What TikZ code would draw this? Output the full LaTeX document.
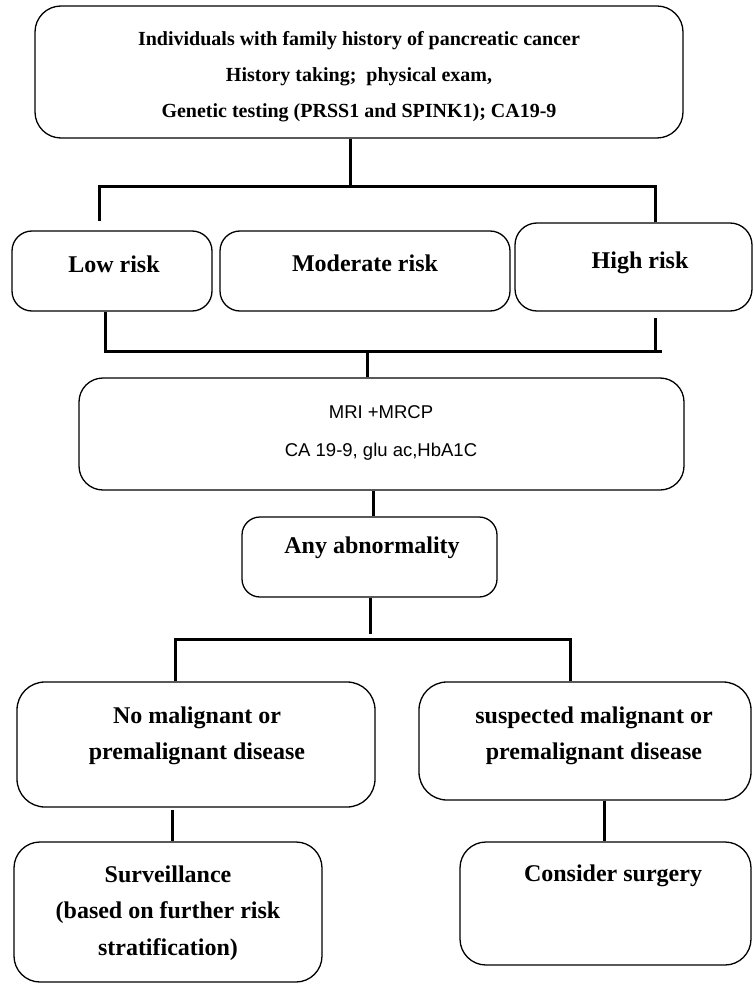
\documentclass[tikz,border=0pt]{standalone}
\usepackage{fontspec}
\setmainfont{Liberation Serif}
\setsansfont{Liberation Sans}
\begin{document}
\begin{tikzpicture}[x=1pt,y=-1pt,
  box/.style={draw=black,line width=1.3pt,rectangle,rounded corners=#1,inner sep=0pt},
  box/.default=22pt,
  lbl/.style={align=center,inner sep=0pt,font=\bfseries\fontsize{24}{36.5}\selectfont},
  lblsmall/.style={align=center,inner sep=0pt,font=\bfseries\fontsize{20}{36}\selectfont},
  lblsans/.style={align=center,inner sep=0pt,font=\sffamily\fontsize{18.5}{37.5}\selectfont},
  conn/.style={draw=black,line width=3pt}]
\useasboundingbox (0,0) rectangle (753,984);
% boxes
\node[box=26pt,minimum width=648pt,minimum height=132pt] (top) at (359,72) {};
\node[box=20pt,minimum width=200pt,minimum height=80pt] (low) at (112,271) {};
\node[box=20pt,minimum width=290pt,minimum height=80pt] (mod) at (365,271) {};
\node[box=22pt,minimum width=237pt,minimum height=88pt] (high) at (633.5,267) {};
\node[box=24pt,minimum width=605pt,minimum height=112pt] (mri) at (381.5,434) {};
\node[box=18pt,minimum width=255pt,minimum height=80pt] (any) at (369.5,557) {};
\node[box=28pt,minimum width=358pt,minimum height=125pt] (nomal) at (196,744.5) {};
\node[box=28pt,minimum width=332pt,minimum height=118pt] (susp) at (585,741) {};
\node[box=26pt,minimum width=308pt,minimum height=140pt] (surv) at (168,912) {};
\node[box=26pt,minimum width=291pt,minimum height=123pt] (surg) at (605.5,903.5) {};
% texts
\node[lblsmall] (ttop) at (359,77) {Individuals with family history of pancreatic cancer\\History taking;\ \ physical exam,\\Genetic testing (PRSS1 and SPINK1); CA19-9};
\node[lbl] (tlow) at (114,264) {Low risk};
\node[lbl] (tmod) at (365,263) {Moderate risk};
\node[lbl] (thigh) at (640,263) {High risk};
\node[lblsans] (tmri) at (381,433) {MRI +MRCP\\CA 19-9, glu ac,HbA1C};
\node[lbl] (tany) at (372,548) {Any abnormality};
\node[lbl] (tnomal) at (197,736) {No malignant or\\premalignant disease};
\node[lbl] (tsusp) at (594,736) {suspected malignant or\\premalignant disease};
\node[lbl] (tsurv) at (168,913) {Surveillance\\(based on further risk\\stratification)};
\node[lbl] (tsurg) at (613,876) {Consider surgery};
% junction coordinates
\coordinate (j1) at (350,187);
\coordinate (b1L) at (99,187);
\coordinate (b1R) at (655,187);
\coordinate (b1Lend) at (99,221);
\coordinate (b2L) at (105,351);
\coordinate (b2R) at (662,351);
\coordinate (b2Rtop) at (655,318);
\coordinate (j2) at (367,351);
\coordinate (j3) at (373.5,490);
\coordinate (j4) at (370.6,634);
\coordinate (b3L) at (175,639);
\coordinate (b3R) at (570,639);
\coordinate (j5) at (172,810);
\coordinate (j6) at (604,800);
% connectors
\draw[conn] (top.south -| j1) -- (j1);
\draw[conn] (b1Lend) -- (b1L) -- (b1R) -- (b1R |- high.north);
\draw[conn] (low.south -| b2L) -- (b2L) -- (b2R);
\draw[conn] (b2Rtop) -- (b2Rtop |- b2R);
\draw[conn] (j2) -- (j2 |- mri.north);
\draw[conn] (mri.south -| j3) -- (any.north -| j3);
\draw[conn] (any.south -| j4) -- (j4);
\draw[conn] (nomal.north -| b3L) -- (b3L) -- (b3R) -- (susp.north -| b3R);
\draw[conn] (j5) -- (surv.north -| j5);
\draw[conn] (susp.south -| j6) -- (surg.north -| j6);
\end{tikzpicture}
\end{document}
